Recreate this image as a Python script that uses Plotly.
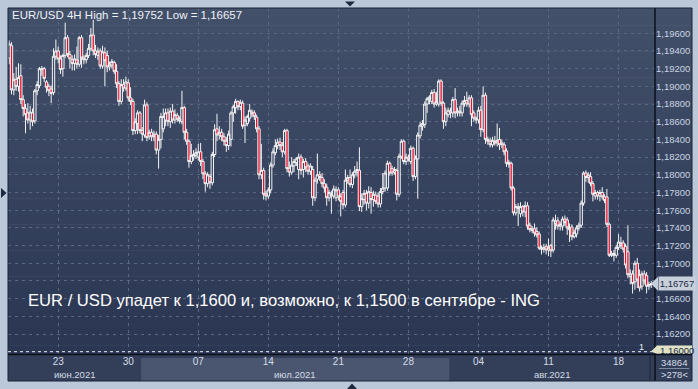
import plotly.graph_objects as go

# ---------------- data (EUR/USD 4H candles) ----------------
open_ = [
1.1932,1.1946,1.1896,1.1908,1.1900,1.1912,1.1885,1.1875,1.1870,1.1862,
1.1870,1.1861,1.1895,1.1901,1.1920,1.1920,1.1905,1.1900,1.1897,1.1893,
1.1934,1.1940,1.1931,1.1920,1.1935,1.1955,1.1936,1.1930,1.1926,1.1930,
1.1925,1.1955,1.1932,1.1930,1.1935,1.1943,1.1958,1.1940,1.1935,1.1940,
1.1923,1.1938,1.1935,1.1922,1.1924,1.1927,1.1917,1.1903,1.1883,1.1902,
1.1898,1.1904,1.1887,1.1883,1.1850,1.1858,1.1870,1.1850,1.1845,1.1879,
1.1844,1.1848,1.1843,1.1846,1.1828,1.1840,1.1852,1.1862,1.1870,1.1860,
1.1872,1.1862,1.1867,1.1863,1.1860,1.1876,1.1848,1.1838,1.1815,1.1820,
1.1822,1.1820,1.1826,1.1815,1.1801,1.1790,1.1798,1.1791,1.1823,1.1852,
1.1845,1.1848,1.1843,1.1838,1.1833,1.1840,1.1870,1.1876,1.1883,1.1877,
1.1881,1.1856,1.1858,1.1864,1.1871,1.1870,1.1865,1.1852,1.1800,1.1805,
1.1779,1.1776,1.1783,1.1811,1.1825,1.1833,1.1837,1.1833,1.1826,1.1850,
1.1807,1.1803,1.1810,1.1814,1.1806,1.1820,1.1806,1.1815,1.1810,1.1804,
1.1806,1.1774,1.1795,1.1800,1.1797,1.1790,1.1786,1.1774,1.1778,1.1776,
1.1774,1.1783,1.1775,1.1780,1.1766,1.1794,1.1797,1.1789,1.1800,1.1803,
1.1805,1.1764,1.1772,1.1779,1.1768,1.1780,1.1772,1.1777,1.1776,1.1767,
1.1781,1.1785,1.1785,1.1813,1.1807,1.1803,1.1805,1.1778,1.1821,1.1838,
1.1815,1.1820,1.1815,1.1830,1.1798,1.1818,1.1844,1.1855,1.1857,1.1880,
1.1886,1.1883,1.1893,1.1880,1.1880,1.1906,1.1881,1.1860,1.1868,1.1872,
1.1870,1.1885,1.1870,1.1872,1.1870,1.1881,1.1884,1.1880,1.1887,1.1870,
1.1864,1.1862,1.1873,1.1851,1.1890,1.1840,1.1838,1.1834,1.1838,1.1836,
1.1840,1.1836,1.1834,1.1827,1.1814,1.1813,1.1785,1.1757,1.1762,1.1756,
1.1764,1.1758,1.1765,1.1743,1.1739,1.1739,1.1736,1.1733,1.1717,1.1716,
1.1719,1.1715,1.1720,1.1715,1.1745,1.1748,1.1742,1.1742,1.1750,1.1749,
1.1740,1.1741,1.1730,1.1733,1.1740,1.1743,1.1768,1.1802,1.1797,1.1798,
1.1790,1.1776,1.1780,1.1776,1.1780,1.1775,1.1775,1.1744,1.1709,1.1711,
1.1709,1.1718,1.1720,1.1723,1.1719,1.1713,1.1685,1.1688,1.1679,1.1700,
1.1686,1.1674,1.1688,1.1686,1.1674,1.1676]

high_ = [
1.1952,1.1950,1.1915,1.1922,1.1926,1.1925,1.1890,1.1880,1.1881,1.1878,
1.1875,1.1897,1.1906,1.1922,1.1923,1.1922,1.1907,1.1903,1.1901,1.1943,
1.1953,1.1945,1.1935,1.1937,1.1972,1.1958,1.1940,1.1935,1.1936,1.1945,
1.1957,1.1958,1.1935,1.1938,1.1948,1.1966,1.19752,1.1947,1.1944,1.1943,
1.1946,1.1944,1.1940,1.1928,1.1931,1.1929,1.1925,1.1906,1.1908,1.1908,
1.1911,1.1908,1.1899,1.1886,1.1864,1.1873,1.1872,1.1854,1.1885,1.1882,
1.1851,1.1852,1.1850,1.1849,1.1845,1.1870,1.1875,1.1875,1.1875,1.1876,
1.1880,1.1874,1.1870,1.1866,1.1895,1.1878,1.1852,1.1840,1.1835,1.1828,
1.1830,1.1835,1.1836,1.1818,1.1804,1.1803,1.1801,1.1826,1.1857,1.1869,
1.1855,1.1852,1.1847,1.1843,1.1850,1.1872,1.1879,1.1886,1.1884,1.1885,
1.1884,1.1866,1.1868,1.1880,1.1874,1.1873,1.1868,1.1855,1.1835,1.1808,
1.1782,1.1786,1.1814,1.1830,1.1840,1.1841,1.1842,1.1837,1.1852,1.1852,
1.1815,1.1820,1.1818,1.1820,1.1824,1.1823,1.1818,1.1819,1.1813,1.1813,
1.1810,1.1797,1.1824,1.1804,1.1802,1.1795,1.1790,1.1783,1.1782,1.1788,
1.1787,1.1786,1.1779,1.1783,1.1806,1.1800,1.1806,1.1803,1.1810,1.1815,
1.1831,1.1779,1.1783,1.1783,1.1787,1.1786,1.1782,1.1781,1.1780,1.1785,
1.1802,1.1805,1.1816,1.1815,1.1810,1.1809,1.1807,1.1824,1.1840,1.1840,
1.1824,1.1823,1.1833,1.1832,1.1822,1.1848,1.1860,1.1862,1.1883,1.1888,
1.1890,1.1896,1.1897,1.1894,1.1908,1.1908,1.1883,1.1876,1.1876,1.1876,
1.1888,1.1898,1.1876,1.1878,1.1884,1.1889,1.1894,1.1890,1.1890,1.1873,
1.1866,1.1877,1.1878,1.1900,1.1893,1.1843,1.1842,1.1843,1.1844,1.1858,
1.1853,1.1840,1.1837,1.1830,1.1817,1.1815,1.1787,1.1767,1.1768,1.1769,
1.1766,1.1770,1.1769,1.1746,1.1742,1.1745,1.1741,1.1736,1.1720,1.1722,
1.1722,1.1728,1.1722,1.1752,1.1755,1.1752,1.1747,1.1753,1.1754,1.1752,
1.1745,1.1744,1.1738,1.1743,1.1746,1.1771,1.1804,1.1805,1.1803,1.1803,
1.1793,1.1783,1.1782,1.1783,1.1786,1.1778,1.1784,1.1746,1.1714,1.1715,
1.1721,1.1733,1.1730,1.1726,1.1722,1.1743,1.1693,1.1692,1.1703,1.1706,
1.1693,1.1691,1.1692,1.1690,1.1679,1.1680]

low_ = [
1.1925,1.1891,1.1890,1.1895,1.1894,1.1880,1.1866,1.1847,1.1858,1.1851,
1.1855,1.1858,1.1890,1.1898,1.1912,1.1905,1.1893,1.1889,1.1881,1.1890,
1.1930,1.1926,1.1914,1.1911,1.1932,1.1933,1.1920,1.1918,1.1918,1.1920,
1.1922,1.1921,1.1925,1.1926,1.1932,1.1940,1.1935,1.1932,1.1930,1.1920,
1.1920,1.1900,1.1916,1.1918,1.1920,1.1914,1.1898,1.1878,1.1880,1.1894,
1.1895,1.1883,1.1879,1.1845,1.1846,1.1846,1.1847,1.1838,1.1842,1.1838,
1.1840,1.1838,1.1838,1.1823,1.1807,1.1830,1.1848,1.1855,1.1855,1.1853,
1.1858,1.1858,1.1860,1.1858,1.1857,1.1840,1.1834,1.1808,1.1812,1.1816,
1.1818,1.1816,1.1810,1.1795,1.1781,1.1786,1.1784,1.1788,1.1820,1.1838,
1.1840,1.1838,1.1833,1.1826,1.1828,1.1832,1.1860,1.1869,1.1873,1.1873,
1.1852,1.1836,1.1855,1.1860,1.1865,1.1862,1.1848,1.1795,1.1795,1.1772,
1.1771,1.1773,1.1779,1.1808,1.1822,1.1829,1.1828,1.1820,1.1823,1.1803,
1.1798,1.1800,1.1803,1.1810,1.1795,1.1800,1.1797,1.1803,1.1800,1.1800,
1.1765,1.1770,1.1790,1.1793,1.1786,1.1780,1.1765,1.1770,1.1756,1.1773,
1.1770,1.1771,1.1753,1.1761,1.1763,1.1790,1.1786,1.1785,1.1796,1.1798,
1.1759,1.1758,1.1766,1.1760,1.1762,1.1756,1.1764,1.1767,1.1763,1.1763,
1.1778,1.1781,1.1782,1.1799,1.1799,1.1800,1.1771,1.1775,1.1818,1.1812,
1.1811,1.1815,1.1812,1.1793,1.1795,1.1773,1.1841,1.1850,1.1853,1.1870,
1.1880,1.1880,1.1876,1.1878,1.1877,1.1878,1.1852,1.1855,1.1865,1.1864,
1.1865,1.1864,1.1866,1.1866,1.1866,1.1877,1.1877,1.1876,1.1855,1.1860,
1.1858,1.1858,1.1843,1.1848,1.1835,1.1834,1.1831,1.1831,1.1833,1.1832,
1.1828,1.1830,1.1822,1.1809,1.1808,1.1782,1.1754,1.1754,1.1742,1.1752,
1.1753,1.1752,1.1738,1.1735,1.1734,1.1730,1.1729,1.1715,1.1710,1.1712,
1.1710,1.1708,1.1707,1.1712,1.1738,1.1738,1.1737,1.1737,1.1742,1.1732,
1.1724,1.1726,1.1728,1.1729,1.1737,1.1740,1.1765,1.1792,1.1791,1.1787,
1.1770,1.1772,1.1772,1.1770,1.1772,1.1768,1.1741,1.1707,1.1707,1.1702,
1.1706,1.1715,1.1716,1.1712,1.1694,1.1683,1.1676,1.16657,1.1670,1.1672,
1.1668,1.1670,1.1676,1.1666,1.1670,1.1672]

close_ = [
1.1948,1.1896,1.1908,1.1900,1.1910,1.1885,1.1875,1.1868,1.1862,1.1871,
1.1860,1.1895,1.1902,1.1920,1.1919,1.1909,1.1899,1.1895,1.1892,1.1934,
1.1940,1.1931,1.1919,1.1935,1.1955,1.1936,1.1931,1.1926,1.1931,1.1925,
1.1955,1.1932,1.1930,1.1935,1.1943,1.1958,1.1940,1.1936,1.1940,1.1923,
1.1939,1.1929,1.1922,1.1925,1.1928,1.1917,1.1903,1.1883,1.1902,1.1898,
1.1905,1.1887,1.1883,1.1850,1.1860,1.1870,1.1850,1.1846,1.1879,1.1842,
1.1848,1.1843,1.1846,1.1828,1.1840,1.1866,1.1866,1.1870,1.1860,1.1872,
1.1862,1.1868,1.1863,1.1861,1.1876,1.1848,1.1838,1.1815,1.1822,1.1823,
1.1825,1.1826,1.1815,1.1801,1.1790,1.1800,1.1791,1.1823,1.1851,1.1845,
1.1848,1.1843,1.1838,1.1833,1.1846,1.1870,1.1877,1.1883,1.1877,1.1882,
1.1855,1.1862,1.1866,1.1873,1.1869,1.1866,1.1852,1.1800,1.1805,1.1778,
1.1776,1.1783,1.1811,1.1826,1.1833,1.1837,1.1833,1.1826,1.1850,1.1807,
1.1803,1.1811,1.1815,1.1818,1.1820,1.1805,1.1815,1.1808,1.1804,1.1810,
1.1774,1.1794,1.1800,1.1797,1.1790,1.1785,1.1774,1.1780,1.1776,1.1784,
1.1783,1.1775,1.1770,1.1766,1.1794,1.1797,1.1789,1.1800,1.1804,1.1806,
1.1764,1.1773,1.1779,1.1768,1.1781,1.1772,1.1778,1.1770,1.1767,1.1781,
1.1785,1.1802,1.1813,1.1802,1.1802,1.1806,1.1778,1.1821,1.1838,1.1815,
1.1820,1.1818,1.1830,1.1798,1.1819,1.1845,1.1856,1.1858,1.1880,1.1886,
1.1888,1.1893,1.1880,1.1883,1.1906,1.1881,1.1860,1.1870,1.1873,1.1870,
1.1885,1.1870,1.1872,1.1870,1.1881,1.1884,1.1880,1.1887,1.1868,1.1864,
1.1862,1.1873,1.1851,1.1890,1.1840,1.1838,1.1834,1.1839,1.1836,1.1839,
1.1834,1.1834,1.1826,1.1813,1.1812,1.1785,1.1757,1.1764,1.1764,1.1764,
1.1758,1.1765,1.1742,1.1738,1.1737,1.1734,1.1732,1.1717,1.1716,1.1718,
1.1715,1.1718,1.1714,1.1749,1.1748,1.1742,1.1744,1.1750,1.1746,1.1740,
1.1738,1.1730,1.1735,1.1740,1.1743,1.1768,1.1802,1.1797,1.1800,1.1790,
1.1778,1.1780,1.1776,1.1780,1.1775,1.1771,1.1744,1.1709,1.1711,1.1709,
1.1718,1.1724,1.1723,1.1716,1.1698,1.1687,1.1688,1.1677,1.1700,1.1681,
1.1672,1.1688,1.1680,1.1674,1.1676,1.16767]

tick_pos = [21, 51, 81, 111, 141, 171, 201, 231, 261]
tick_labels = ["23", "30", "07", "14", "21", "28", "04", "11", "18"]
month_labels = ["июн.2021", "июл.2021", "авг.2021"]
month_bounds = [-0.5, 56.5, 188.5, 276.6]
price_ticks = [1.162, 1.164, 1.166, 1.168, 1.170, 1.172, 1.174, 1.176, 1.178,
               1.180, 1.182, 1.184, 1.186, 1.188, 1.190, 1.192, 1.194, 1.196]
hidden_tick = 1.168
last_price = 1.16767
level_line = 1.16
level_count = "1"
title_text = "EUR/USD 4H High = 1,19752 Low = 1,16657"
headline = "EUR / USD упадет к 1,1600 и, возможно, к 1,1500 в сентябре - ING"
bars_total = "34864"
bars_visible = ">278<"

# ---------------- geometry helpers (pixel -> paper) ----------------
W, H = 698, 389
PL, PR, PT, PB = 8, 655, 8, 354
def px(x):
    return (x - PL) / (PR - PL)
def py(y):
    return (PB - y) / (PB - PT)

FONT = "Liberation Sans"
x_idx = list(range(len(close_)))

fig = go.Figure()
fig.add_trace(go.Candlestick(
    x=x_idx, open=open_, high=high_, low=low_, close=close_,
    increasing=dict(line=dict(color="#f4f4f4", width=1), fillcolor="rgba(0,0,0,0)"),
    decreasing=dict(line=dict(color="#f4f4f4", width=1), fillcolor="#e2122e"),
    whiskerwidth=0, showlegend=False, hoverinfo="skip"))

shapes = []
# vertical gradient background of plot + price panel
top_c = (67, 80, 106)
bot_c = (42, 54, 82)
nb = 40
for i in range(nb):
    t = i / (nb - 1)
    c = tuple(round(top_c[k] + (bot_c[k] - top_c[k]) * t) for k in range(3))
    y0 = PT + (PB - PT) * i / nb
    y1 = PT + (PB - PT) * (i + 1) / nb
    shapes.append(dict(type="rect", xref="paper", yref="paper", x0=px(8), x1=px(692),
                       y0=py(y1 + 0.5), y1=py(y0), fillcolor="rgb(%d,%d,%d)" % c,
                       line=dict(width=0), layer="below"))
# date strip
shapes.append(dict(type="rect", xref="paper", yref="paper", x0=px(8), x1=px(692),
                   y0=py(381), y1=py(354), fillcolor="#333f59", line=dict(width=0), layer="below"))
shapes.append(dict(type="rect", xref="x", yref="paper", x0=month_bounds[1], x1=month_bounds[2],
                   y0=py(381), y1=py(358), fillcolor="#4a5670", line=dict(width=0), layer="below"))
# separators
shapes.append(dict(type="line", xref="paper", yref="paper", x0=px(655), x1=px(655),
                   y0=py(381), y1=py(8), line=dict(color="#0b0f1a", width=1.5)))
shapes.append(dict(type="line", xref="paper", yref="paper", x0=px(650), x1=px(650),
                   y0=py(380), y1=py(356), line=dict(color="#26314a", width=2)))
shapes.append(dict(type="rect", xref="paper", yref="paper", x0=px(8), x1=px(692),
                   y0=py(381), y1=py(8), line=dict(color="#1a2234", width=1)))
shapes.append(dict(type="line", xref="paper", yref="paper", x0=px(659), x1=px(689),
                   y0=py(368.5), y1=py(368.5), line=dict(color="#7f8ba2", width=1)))
# level line at 1.16
shapes.append(dict(type="line", xref="paper", yref="y", x0=0, x1=px(652),
                   y0=level_line, y1=level_line, line=dict(color="#e8ecf2", width=1, dash="dot")))
# price marker notches
d = 7 / 8845
shapes.append(dict(type="path", xref="paper", yref="y",
                   path="M %f,%f L %f,%f L %f,%f Z" % (px(651), last_price, px(658), last_price + d,
                                                      px(658), last_price - d),
                   fillcolor="#c7cfdb", line=dict(width=0)))
# level box (cut by the strip divider)
shapes.append(dict(type="path", xref="paper", yref="paper",
                   path="M %f,%f L %f,%f L %f,%f L %f,%f L %f,%f Z" % (
                       px(651), py(351.5), px(657), py(345.5), px(692), py(345.5),
                       px(692), py(354), px(657), py(354)),
                   fillcolor="#dfe2c6", line=dict(width=0)))
# scroll triangles on the frame
tri_col = "#1e2940"
for pts in [((345, 1.5), (355, 1.5), (350, 6.5)),
            ((1, 188), (1, 198), (6.5, 193)),
            ((347, 389), (357, 389), (352, 383.5))]:
    path = "M %f,%f L %f,%f L %f,%f Z" % (px(pts[0][0]), py(pts[0][1]), px(pts[1][0]), py(pts[1][1]),
                                          px(pts[2][0]), py(pts[2][1]))
    shapes.append(dict(type="path", xref="paper", yref="paper", path=path,
                       fillcolor=tri_col, line=dict(width=0)))

annotations = []
annotations.append(dict(text=title_text, xref="paper", yref="paper", x=px(10), y=py(14.5),
                        xanchor="left", yanchor="middle", showarrow=False,
                        font=dict(family=FONT, size=11.5, color="#eef1f6")))
annotations.append(dict(text=headline, xref="paper", yref="paper", x=px(26), y=py(300),
                        xanchor="left", yanchor="middle", showarrow=False,
                        font=dict(family=FONT, size=16.6, color="#ffffff")))
for i, lab in enumerate(month_labels):
    annotations.append(dict(text=lab, xref="x", yref="paper",
                            x=(month_bounds[i] + month_bounds[i + 1]) / 2, y=py(374),
                            xanchor="center", yanchor="middle", showarrow=False,
                            font=dict(family=FONT, size=9.5, color="#d4dbe6")))
annotations.append(dict(text=f"{last_price:.5f}".replace(".", ","), xref="paper", yref="y",
                        x=px(658), y=last_price, xanchor="left", yanchor="middle", showarrow=False,
                        bgcolor="#c7cfdb", borderpad=1, width=34,
                        font=dict(family=FONT, size=9.5, color="#1b2943")))
annotations.append(dict(text=f"{level_line:.5f}".replace(".", ","), xref="paper", yref="paper",
                        x=px(658), y=py(350.5), xanchor="left", yanchor="middle", showarrow=False,
                        font=dict(family=FONT, size=9.5, color="#1b2943")))
annotations.append(dict(text=level_count, xref="paper", yref="y", x=px(641), y=level_line,
                        xanchor="center", yanchor="bottom", showarrow=False, yshift=-2,
                        font=dict(family=FONT, size=9, color="#e8ecf2")))
annotations.append(dict(text=bars_total, xref="paper", yref="paper", x=px(674), y=py(363),
                        xanchor="center", yanchor="middle", showarrow=False,
                        font=dict(family=FONT, size=9.5, color="#d4dbe6")))
annotations.append(dict(text=bars_visible, xref="paper", yref="paper", x=px(674), y=py(374.5),
                        xanchor="center", yanchor="middle", showarrow=False,
                        font=dict(family=FONT, size=9.5, color="#d4dbe6")))

ticktext = ["" if abs(v - hidden_tick) < 1e-9 else f"{v:.5f}".replace(".", ",") for v in price_ticks]

fig.update_layout(
    width=W, height=H,
    margin=dict(l=PL, r=W - PR, t=PT, b=H - PB, pad=0),
    paper_bgcolor="#bac8da", plot_bgcolor="rgba(0,0,0,0)",
    boxgap=0, boxgroupgap=0,
    showlegend=False, hovermode=False,
    shapes=shapes, annotations=annotations,
    xaxis=dict(range=[-0.5, 276.6], tickmode="array", tickvals=tick_pos, ticktext=tick_labels,
               showgrid=True, gridcolor="#5a6884", griddash="3px,4px", gridwidth=1,
               zeroline=False, showline=False, ticks="", rangeslider=dict(visible=False),
               tickfont=dict(family=FONT, size=10, color="#d4dbe6"), fixedrange=True),
    yaxis=dict(range=[1.15974, 1.19886], side="right", tickmode="array", tickvals=price_ticks,
               ticktext=ticktext, showgrid=True, gridcolor="#5a6884", griddash="3px,4px",
               gridwidth=1, zeroline=False, showline=False, ticks="",
               tickfont=dict(family=FONT, size=9.5, color="#c9d3e2"), fixedrange=True),
)
# black divider between plot and date strip, drawn above everything
fig.add_shape(type="line", xref="paper", yref="paper", x0=px(8), x1=px(692),
              y0=py(354.5), y1=py(354.5), line=dict(color="#0b0f1a", width=1.5))

fig.write_html("out.html")
